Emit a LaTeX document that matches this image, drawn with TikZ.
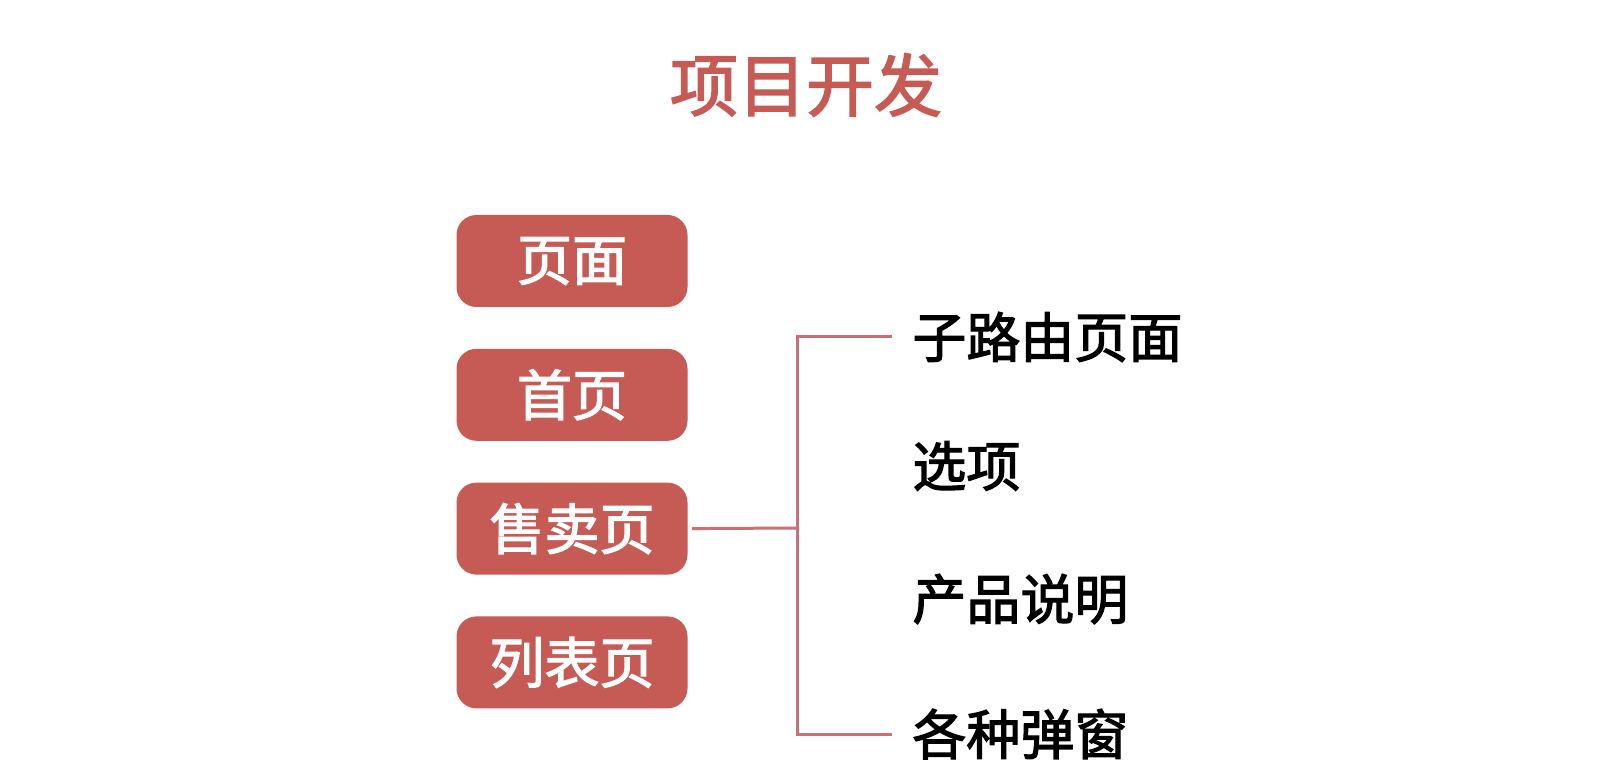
\documentclass[tikz,border=0pt]{standalone}
\usepackage{fontspec}
\usepackage{xcolor}
\usetikzlibrary{positioning}
\newfontfamily\cjk[FakeBold=2.2]{Noto Sans CJK SC}
\definecolor{brick}{HTML}{C65A55}
\definecolor{brickline}{HTML}{C97074}

\begin{document}
\begin{tikzpicture}[
  x=0.5pt, y=-0.5pt,
  node distance=20.5pt,
  box/.style={fill=brick, rounded corners=10pt, align=center,
              font=\cjk\fontsize{27.5}{32}\selectfont, text=white,
              minimum width=115.5pt, minimum height=46pt, inner sep=0pt},
  item/.style={anchor=west, inner sep=0pt,
               font=\cjk\fontsize{27}{32}\selectfont},
  link/.style={draw=brickline, line width=1.5pt}]
\useasboundingbox (0,0) rectangle (1610,780);
\node[font=\cjk\fontsize{34}{40}\selectfont, text=brick] (title) at (806,85) {项目开发};
\node[box] (page) at (572,261) {页面};
\node[box, below=of page] (home) {首页};
\node[box, below=of home] (sale) {售卖页};
\node[box, below=of sale] (list) {列表页};
\node[item] (sub) at (912,337) {子路由页面};
\node[item] (opt) at (912,466) {选项};
\node[item] (desc) at (912,599) {产品说明};
\node[item] (pop) at (912,734) {各种弹窗};
\coordinate (fork) at (797,528);
\draw[link] ([xshift=2pt]sale.east) -- (fork);
\draw[link] ([xshift=-10pt]sub.west) -| (fork) |- ([xshift=-10pt]pop.west);
\end{tikzpicture}
\end{document}
